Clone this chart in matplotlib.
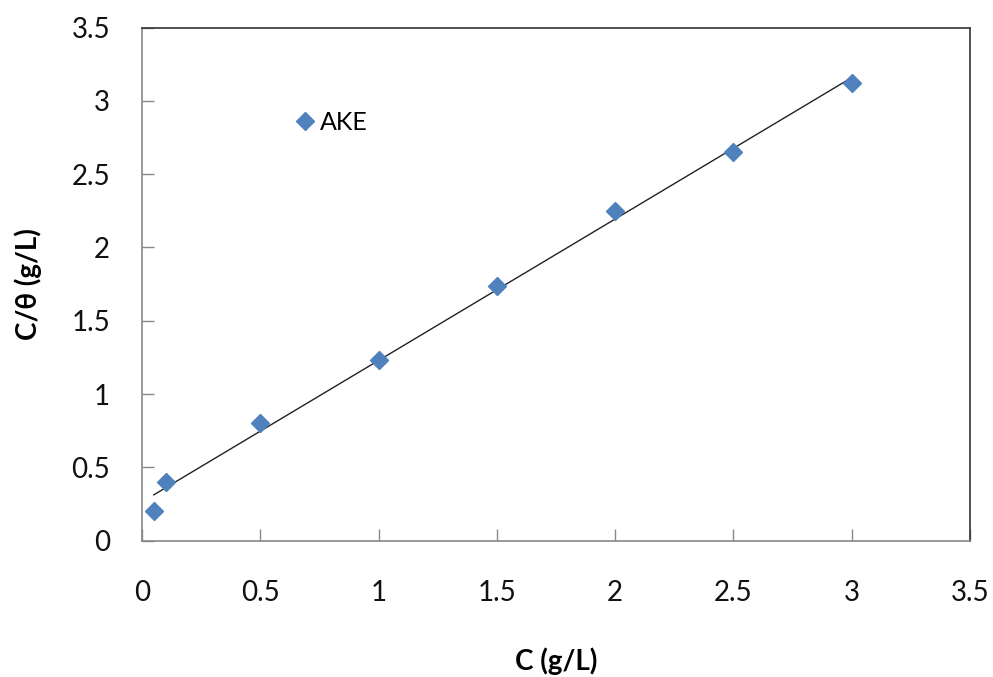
import numpy as np
import matplotlib.pyplot as plt

plt.rcParams['font.family'] = ['Lato', 'DejaVu Sans']

# Isotherm data: concentration C and C/theta
conc = [0.05, 0.1, 0.5, 1.0, 1.5, 2.0, 2.5, 3.0]
c_over_theta = [0.20, 0.40, 0.80, 1.23, 1.74, 2.25, 2.65, 3.12]
series_name = "AKE"
ticks = [0, 0.5, 1, 1.5, 2, 2.5, 3, 3.5]
tick_labels = ["0", "0.5", "1", "1.5", "2", "2.5", "3", "3.5"]

fig = plt.figure(figsize=(9.93, 6.77), dpi=100)
ax = fig.add_axes([142 / 993, 1 - 540.7 / 677, (970 - 142) / 993, (540.7 - 27.5) / 677])

ax.plot(conc, c_over_theta, linestyle='none', marker='D', markersize=9,
        color='#4F81BD', markeredgecolor='#4F81BD', label=series_name, zorder=3)

# Linear trendline over the data range
slope, intercept = np.polyfit(conc, c_over_theta, 1)
xfit = np.array([min(conc), max(conc)])
ax.plot(xfit, slope * xfit + intercept, color='#222222', linewidth=1.0, zorder=2)

ax.set_xlim(0, 3.5)
ax.set_ylim(0, 3.5)
ax.set_xticks(ticks)
ax.set_xticklabels(tick_labels)
ax.set_yticks(ticks)
ax.set_yticklabels(tick_labels)
ax.tick_params(direction='in', length=8.6, width=1, color='#888888',
               labelsize=20, labelcolor='#111111')
ax.tick_params(axis='x', pad=28)
ax.tick_params(axis='y', pad=23)

for side in ('left', 'bottom'):
    ax.spines[side].set_color('#888888')
    ax.spines[side].set_linewidth(1.2)
for side in ('top', 'right'):
    ax.spines[side].set_color('#333333')
    ax.spines[side].set_linewidth(1.2)

ax.set_xlabel("C (g/L)", fontsize=20, fontweight='bold')
ax.set_ylabel("C/θ (g/L)", fontsize=20, fontweight='bold')
ax.xaxis.set_label_coords(0.5, -0.207)
ax.yaxis.set_label_coords(-0.121, 0.5)

ax.legend(loc='center left', bbox_to_anchor=(0.158, 0.815), frameon=False,
          fontsize=18, handletextpad=0.2, handlelength=0.8, markerscale=1.0)

fig.savefig("out.png", dpi=100)
